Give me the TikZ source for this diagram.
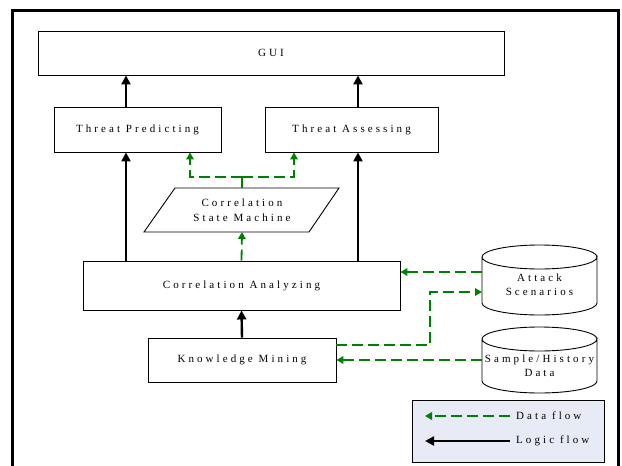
\documentclass[tikz,border=0pt]{standalone}
\usepackage{fontspec}
\setmainfont{Liberation Serif}[LetterSpace=28]
\usetikzlibrary{arrows.meta,calc}
\definecolor{dgreen}{RGB}{0,128,0}
\definecolor{legendfill}{RGB}{230,235,245}
\begin{document}
\begin{tikzpicture}[x=1pt,y=-1pt,
  lbl/.style={font=\fontsize{11}{14.5}\selectfont, align=center},
  box/.style={lbl, draw, line width=0.9pt, fill=white, inner sep=0pt},
  logic/.style={line width=2.4pt, -{Triangle[length=9pt,width=9pt]}},
  data/.style={draw=dgreen, line width=1.8pt, dash pattern=on 11pt off 5pt,
    -{Triangle[length=7pt,width=7.5pt]}},
  dataline/.style={draw=dgreen, line width=1.8pt, dash pattern=on 11pt off 5pt},
  outline/.style={line width=0.9pt}]
\useasboundingbox (0,0) rectangle (622,466);

% outer frame (open at the bottom)
\draw[line width=3pt] (12,470) -- (12,10) -- (618,10) -- (618,470);

% process boxes
\node[box, minimum width=466pt, minimum height=44pt] (gui) at (271,53) {GUI};
\node[box, minimum width=167pt, minimum height=45pt] (tp) at (137.5,129.5) {Threat Predicting};
\node[box, minimum width=173pt, minimum height=45pt] (ta) at (351.5,129.5) {Threat Assessing};
\node[box, minimum width=317pt, minimum height=49pt] (ca) at (241.5,285.5) {Correlation Analyzing};
\node[box, minimum width=188pt, minimum height=44pt] (km) at (242,360) {Knowledge Mining};

% correlation state machine (parallelogram)
\draw[outline, fill=white] (175,188) -- (339,188) -- (309,232) -- (144,232) -- cycle;
\node[lbl, inner sep=0pt] (csm) at (242,210) {Correlation\\State Machine};
\coordinate (csmtop) at (242,188);
\coordinate (csmbot) at (242,232);

% data stores (cylinders)
\draw[outline, fill=white] (482,257) -- (482,303) arc[start angle=180, end angle=360, x radius=57.5pt, y radius=12pt]
  -- (597,257) arc[start angle=0, end angle=-180, x radius=57.5pt, y radius=12pt];
\draw[outline] (482,257) arc[start angle=180, end angle=360, x radius=57.5pt, y radius=-12pt];
\node[lbl, inner sep=0pt] (as) at (539.5,284.5) {Attack\\Scenarios};

\draw[outline, fill=white] (482,339) -- (482,381) arc[start angle=180, end angle=360, x radius=57.5pt, y radius=12pt]
  -- (597,339) arc[start angle=0, end angle=-180, x radius=57.5pt, y radius=12pt];
\draw[outline] (482,339) arc[start angle=180, end angle=360, x radius=57.5pt, y radius=-12pt];
\node[lbl, inner sep=0pt] (sh) at (539.5,365.5) {Sample/History\\Data};

% connector columns and ports
\coordinate (xl) at (126,0);
\coordinate (xr) at (358,0);
\coordinate (jn) at (242,177);
\coordinate (asin) at (482,272);
\coordinate (asout) at (482,292);
\coordinate (shout) at (482,360);

% logic flow
\draw[logic] (tp.north -| xl) -- (gui.south -| xl);
\draw[logic] (ta.north -| xr) -- (gui.south -| xr);
\draw[logic] (ca.north -| xl) -- (tp.south -| xl);
\draw[logic] (ca.north -| xr) -- (ta.south -| xr);
\draw[logic] (km.north) -- (ca.south);

% data flow
\draw[dataline] (csmtop) -- (jn);
\draw[data] (jn) -| ([xshift=-52pt]tp.south -| jn);
\draw[data] (jn) -| ([xshift=52pt]ta.south -| jn);
\draw[data] (ca.north) -- (csmbot);
\draw[data] (asin) -- (ca.east |- asin);
\draw[data] (km.east |- 0,345) -- (430,345) |- (asout);
\draw[data] (shout) -- (km.east |- shout);

% legend
\node[draw, outline, fill=legendfill, minimum width=192pt, minimum height=62pt, inner sep=0pt] (leg) at (508,431) {};
\coordinate (l1a) at (510,416);
\coordinate (l1b) at (425,416);
\coordinate (l2a) at (510,441);
\coordinate (l2b) at (425,441);
\draw[data] (l1a) -- (l1b);
\draw[logic] (l2a) -- (l2b);
\node[lbl, anchor=west, inner sep=0pt] (dfl) at (516,416) {Data flow};
\node[lbl, anchor=west, inner sep=0pt] (lfl) at (516,441) {Logic flow};
\end{tikzpicture}
\end{document}
